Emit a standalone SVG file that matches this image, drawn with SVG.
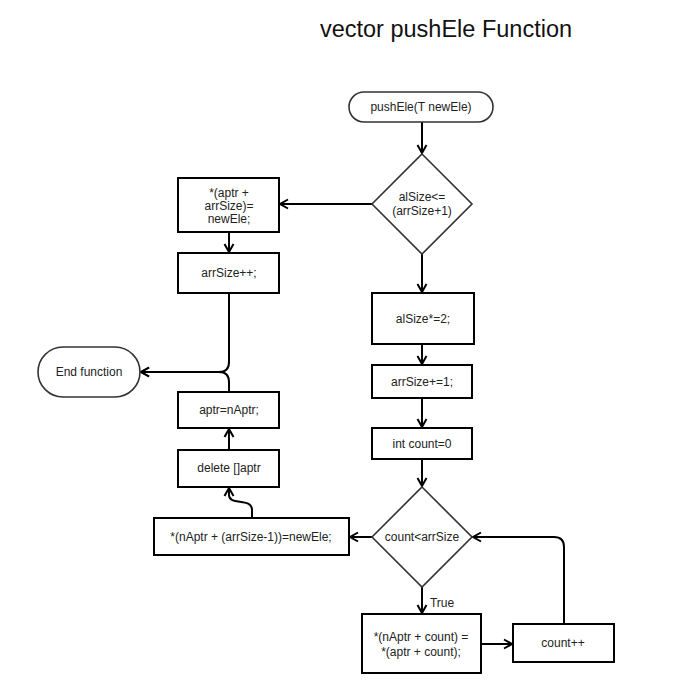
<svg xmlns="http://www.w3.org/2000/svg" width="679" height="693" viewBox="0 0 679 693">
<style>
.box{fill:#fff;stroke:#000;stroke-width:2}
.term{fill:#fff;stroke:#333;stroke-width:1.6}
.dia{fill:#fff;stroke:#333;stroke-width:1.6}
.lbl{font-family:"Liberation Sans",Arial,sans-serif;font-size:12px;fill:#222;text-anchor:middle}
.edge{fill:none;stroke:#000;stroke-width:2;marker-end:url(#arr)}
</style>
<defs>
<marker id="arr" markerUnits="userSpaceOnUse" markerWidth="12" markerHeight="12" viewBox="0 0 12 12" refX="10" refY="6" orient="auto">
<path d="M2,1.5 L10,6 L2,10.5" fill="none" stroke="#000" stroke-width="2"/>
</marker>
</defs>
<rect width="679" height="693" fill="#fff"/>
<text x="446" y="37" font-family="Liberation Sans,Arial,sans-serif" font-size="23.5" fill="#111" text-anchor="middle">vector pushEle Function</text>

<g id="connectors">
<path class="edge" d="M422,122 L422,153"/>
<path class="edge" d="M422,254 L422,292"/>
<path class="edge" d="M372,204 L280,204"/>
<path class="edge" d="M229,232 L229,252"/>
<path class="edge" d="M229,293 L229,362 Q229,372 219,372 L141,372"/>
<path class="edge" d="M229,392 L229,382 Q229,372 219,372 L141,372"/>
<path class="edge" d="M422,344 L422,364"/>
<path class="edge" d="M422,398 L422,427"/>
<path class="edge" d="M422,459 L422,486"/>
<path class="edge" d="M372,537 L350,537"/>
<path class="edge" d="M422,587 L422,613"/>
<path class="edge" d="M481,644 L512,644"/>
<path class="edge" d="M564,624 L564,547 Q564,537 554,537 L473,537"/>
<path class="edge" d="M252,518 L252,510 C252,497 229,506 229,495 L229,488"/>
<path class="edge" d="M229,450 L229,429"/>
<text class="lbl" x="442" y="607">True</text>
</g>

<g id="start">
<rect class="term" x="349" y="92" width="144" height="30" rx="15"/>
<text class="lbl" x="421" y="111">pushEle(T newEle)</text>
</g>
<g id="cond1">
<polygon class="dia" points="422,154 472,204 422,254 372,204"/>
<text class="lbl" x="422" y="201">alSize&lt;=</text>
<text class="lbl" x="422" y="215">(arrSize+1)</text>
</g>
<g id="assignEle">
<rect class="box" x="178" y="178" width="101" height="54"/>
<text class="lbl" x="229" y="197">*(aptr +</text>
<text class="lbl" x="229" y="210">arrSize)=</text>
<text class="lbl" x="229" y="223">newEle;</text>
</g>
<g id="incSize1">
<rect class="box" x="178" y="253" width="101" height="40"/>
<text class="lbl" x="229" y="277">arrSize++;</text>
</g>
<g id="endFn">
<rect class="term" x="38" y="347" width="102" height="50" rx="25"/>
<text class="lbl" x="89" y="376">End function</text>
</g>
<g id="assignPtr">
<rect class="box" x="178" y="392" width="101" height="36"/>
<text class="lbl" x="229" y="414">aptr=nAptr;</text>
</g>
<g id="deleteOld">
<rect class="box" x="178" y="450" width="101" height="37"/>
<text class="lbl" x="229" y="472">delete []aptr</text>
</g>
<g id="dbl">
<rect class="box" x="372" y="293" width="102" height="51"/>
<text class="lbl" x="423" y="323">alSize*=2;</text>
</g>
<g id="incSize2">
<rect class="box" x="372" y="365" width="100" height="33"/>
<text class="lbl" x="422" y="386">arrSize+=1;</text>
</g>
<g id="initCount">
<rect class="box" x="372" y="428" width="100" height="31"/>
<text class="lbl" x="422" y="448">int count=0</text>
</g>
<g id="cond2">
<polygon class="dia" points="422,487 472,537 422,587 372,537"/>
<text class="lbl" x="422" y="541">count&lt;arrSize</text>
</g>
<g id="lastEle">
<rect class="box" x="154" y="518" width="195" height="37"/>
<text class="lbl" x="251" y="541">*(nAptr + (arrSize-1))=newEle;</text>
</g>
<g id="copy">
<rect class="box" x="362" y="614" width="119" height="59"/>
<text class="lbl" x="421" y="641">*(nAptr + count) =</text>
<text class="lbl" x="421" y="656">*(aptr + count);</text>
</g>
<g id="incCount">
<rect class="box" x="513" y="624" width="101" height="38"/>
<text class="lbl" x="563" y="647">count++</text>
</g>
</svg>
